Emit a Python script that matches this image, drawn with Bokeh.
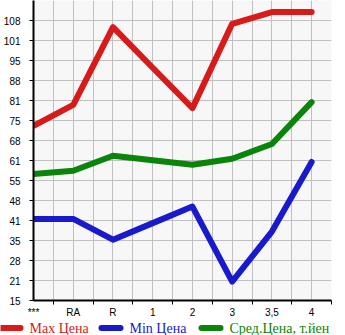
from bokeh.plotting import figure
from bokeh.models import Range1d, FixedTicker, LinearAxis
from bokeh.layouts import column
from bokeh.core.properties import value
from bokeh.embed import file_html
from bokeh.resources import INLINE

categories = ["***", "RA", "R", "1", "2", "3", "3,5", "4"]
max_price = [73.0, 80.0, 105.8, 92.3, 78.9, 106.9, 110.8, 110.8]
min_price = [42.1, 42.1, 35.2, 40.7, 46.2, 21.3, 37.9, 61.0]
avg_price = [57.0, 58.1, 63.1, 61.6, 60.1, 62.1, 67.0, 80.9]
y_tick_labels = ["15", "21", "28", "35", "41", "48", "55", "61", "68", "75",
                 "81", "88", "95", "101", "108"]
series_names = ["Max Цена", "Min Цена", "Сред.Цена, т.йен"]
colors = ["#d81a1a", "#1a1acd", "#0a850a"]

y_min, y_max_tick = 15.0, 108.0
step = (y_max_tick - y_min) / (len(y_tick_labels) - 1)
y_ticks = [y_min + i * step for i in range(len(y_tick_labels))]

xs = list(range(len(categories)))
half_ticks = [i + 0.5 for i in xs]

p = figure(width=345, height=320, output_backend="svg", toolbar_location=None,
           x_range=Range1d(0, len(categories) - 0.5),
           y_range=Range1d(y_min, y_min + step * 15),
           x_axis_location=None,
           min_border_left=31, min_border_right=14, min_border_top=0,
           min_border_bottom=20)
p.background_fill_color = "#f7f7f7"
p.border_fill_color = "white"
p.outline_line_color = None

# x axis: tick marks between categories
ax_ticks = LinearAxis(ticker=FixedTicker(ticks=half_ticks),
                      major_label_overrides={t: "" for t in half_ticks},
                      major_label_text_font_size="0px",
                      major_label_standoff=0,
                      major_tick_out=4, major_tick_in=0,
                      major_tick_line_color="black",
                      minor_tick_line_color=None,
                      axis_line_color="black", axis_line_width=2)
# x axis: category labels
ax_labels = LinearAxis(ticker=FixedTicker(ticks=xs),
                       major_label_overrides={i: c for i, c in enumerate(categories)},
                       major_label_standoff=2,
                       major_tick_out=0, major_tick_in=0,
                       major_tick_line_color=None,
                       minor_tick_line_color=None,
                       axis_line_color=None,
                       major_label_text_font="Liberation Sans",
                       major_label_text_font_size="10px",
                       major_label_text_color="black")
p.add_layout(ax_ticks, "below")
p.add_layout(ax_labels, "below")

# y axis
p.yaxis.ticker = FixedTicker(ticks=y_ticks)
p.yaxis.major_label_overrides = {t: l for t, l in zip(y_ticks, y_tick_labels)}
p.yaxis.major_tick_out = 4
p.yaxis.major_tick_in = 0
p.yaxis.minor_tick_line_color = None
p.yaxis.major_label_standoff = 9
p.yaxis.axis_line_color = "black"
p.yaxis.axis_line_width = 2
p.yaxis.major_tick_line_color = "black"
p.yaxis.major_label_text_font = "Liberation Sans"
p.yaxis.major_label_text_font_size = "10px"
p.yaxis.major_label_text_color = "black"

p.xgrid.ticker = FixedTicker(ticks=[i * 0.5 for i in range(2 * len(categories))])
p.ygrid.ticker = FixedTicker(ticks=y_ticks)
for g in (p.xgrid, p.ygrid):
    g.grid_line_color = "#c0c0c0"
    g.grid_line_width = 1

for vals, col in zip([max_price, min_price, avg_price], colors):
    p.line(xs, vals, line_color=col, line_width=6,
           line_join="round", line_cap="round")

# legend strip
lg = figure(width=345, height=15, output_backend="svg", toolbar_location=None,
            x_range=Range1d(0, 345), y_range=Range1d(0, 15),
            x_axis_location=None, y_axis_location=None,
            min_border=0, min_border_left=0, min_border_right=0,
            min_border_top=0, min_border_bottom=0)
lg.grid.visible = False
lg.outline_line_color = None
lg.background_fill_color = "white"
lg.border_fill_color = "white"
starts = [1, 101, 201]
for name, col, x0 in zip(series_names, colors, starts):
    lg.line([x0, x0 + 19], [7.5, 7.5], line_color=col, line_width=6,
            line_cap="round")
    lg.text([x0 + 28], [7.5], text=[name], text_color=col,
            text_font=value("Liberation Serif"), text_font_size="14px",
            text_baseline="middle", text_align="left")

for f in (p, lg):
    try:
        f.frame_align = False
    except Exception:
        pass

layout = column(p, lg, spacing=0)
open("out.html", "w").write(file_html(layout, INLINE))
